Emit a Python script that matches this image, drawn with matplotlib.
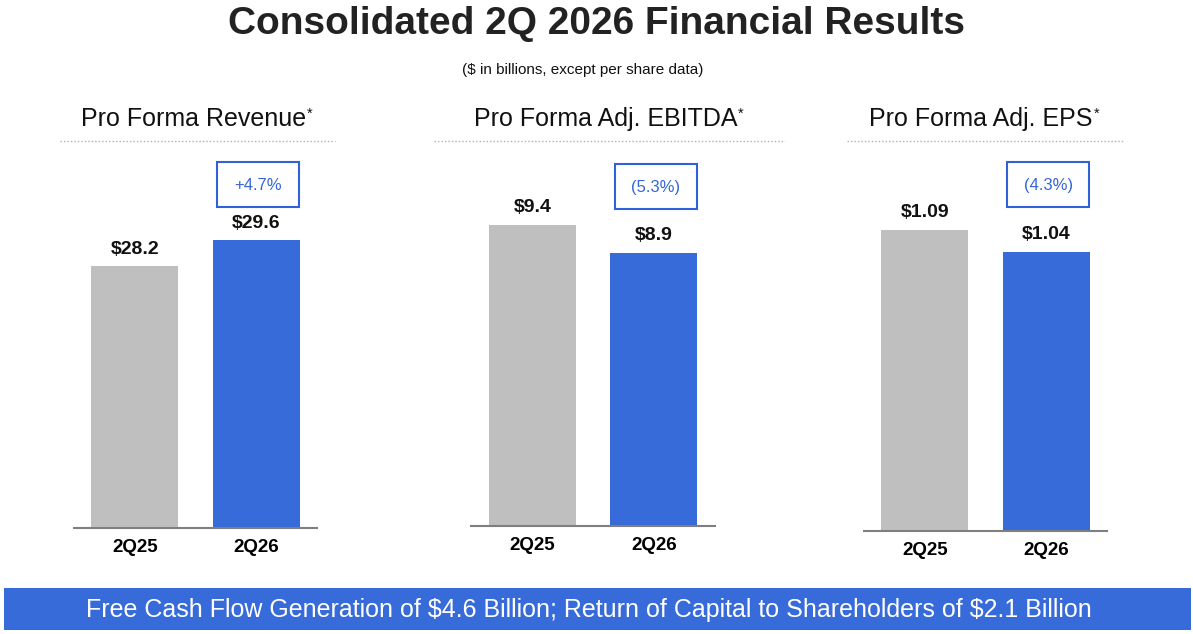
import numpy as np
import matplotlib
matplotlib.use("Agg")
import matplotlib.pyplot as plt
from matplotlib.patches import Rectangle
from matplotlib.transforms import blended_transform_factory

plt.rcParams['font.family'] = ['Liberation Sans', 'DejaVu Sans']

# data
periods = ["2Q25", "2Q26"]
titles = ["Pro Forma Revenue", "Pro Forma Adj. EBITDA", "Pro Forma Adj. EPS"]
values = [[28.2, 29.6], [9.4, 8.9], [1.09, 1.04]]
labels = [["$28.2", "$29.6"], ["$9.4", "$8.9"], ["$1.09", "$1.04"]]
changes = ["+4.7%", "(5.3%)", "(4.3%)"]
banner = "Free Cash Flow Generation of $4.6 Billion; Return of Capital to Shareholders of $2.1 Billion"

GRAY = "#bfbfbf"
BLUE = "#376bd9"
W, H = 1193, 634

# layout in pixels: (left, right, baseline_y, ymin, px_per_unit, rule_left, rule_right)
panels = [
    (74, 317, 527.5, 14.12, 18.57, 60, 335),
    (471, 715, 526, 4.025, 56.0, 434, 785),
    (864, 1107, 530.5, 0.407, 440.0, 847, 1123),
]
box_top = [162, 164, 162]
top_px = 150

fig = plt.figure(figsize=(W / 100, H / 100), dpi=100)

fig.text(596 / W, 1 - 24 / H, "Consolidated 2Q 2026 Financial Results", ha="center", va="center",
         fontsize=28, fontweight="bold", color="#222222")
fig.text(583 / W, 1 - 70 / H, "($ in billions, except per share data)", ha="center", va="center",
         fontsize=11, color="#111111")

renderer = fig.canvas.get_renderer()

for i, (l, r, base, v0, k, rl, rr) in enumerate(panels):
    ax = fig.add_axes([l / W, 1 - base / H, (r - l) / W, (base - top_px) / H])
    spacing = 121.5
    c0 = (l + r) / 2 - spacing / 2
    xmin = (l - c0) / spacing
    xmax = (r - c0) / spacing
    x = np.arange(len(periods))
    ax.bar(x, values[i], width=87 / spacing, color=[GRAY, BLUE], zorder=2)
    ax.set_xlim(xmin, xmax)
    ax.set_ylim(v0, v0 + (base - top_px) / k)
    for s in ["top", "right", "left"]:
        ax.spines[s].set_visible(False)
    ax.spines["bottom"].set_color("#7f7f7f")
    ax.spines["bottom"].set_linewidth(1.5)
    ax.set_yticks([])
    ax.set_xticks(x)
    ax.set_xticklabels(periods, fontsize=13.5, fontweight="bold")
    ax.tick_params(axis="x", length=0, pad=8)
    for xi, v, lab in zip(x, values[i], labels[i]):
        ax.annotate(lab, (xi, v), xytext=(0, 17), textcoords="offset pixels", ha="center", va="center",
                    fontsize=14, fontweight="bold", color="#111111")

    # change box above 2Q26 bar
    tr = blended_transform_factory(ax.transData, fig.transFigure)
    bw = 82 / spacing
    bt = 1 - box_top[i] / H
    bh = 45 / H
    ax.add_patch(Rectangle((1 - bw / 2 + 2 / spacing, bt - bh), bw, bh, transform=tr, fill=False,
                           edgecolor="#2f62d6", linewidth=1.5, clip_on=False))
    ax.text(1 + 2 / spacing, bt - bh / 2 - 1 / H, changes[i], transform=tr, ha="center", va="center",
            fontsize=12, color="#3566d8")

    # header with superscript asterisk
    cx = (rl + rr) / 2
    t = fig.text(cx / W, 1 - 126 / H, titles[i], ha="center", va="baseline", fontsize=18, color="#111111")
    bb = t.get_window_extent(renderer)
    shift = 4
    t.set_x((cx - shift) / W)
    fig.text((bb.x1 - shift + 1) / W, 1 - 118 / H, "*", ha="left", va="baseline", fontsize=10.5, color="#111111")
    fig.add_artist(plt.Line2D([rl / W, rr / W], [1 - 141 / H, 1 - 141 / H], color="#b0b0b0",
                              linewidth=1, linestyle=(0, (1, 1.5))))

fig.add_artist(Rectangle((4 / W, 1 - 630 / H), (1191 - 4) / W, 42 / H, transform=fig.transFigure,
                         facecolor="#376bd9", edgecolor="none"))
fig.text(589 / W, 1 - 610 / H, banner, ha="center", va="center", fontsize=18, color="white",
         parse_math=False)

fig.savefig("out.png", dpi=100)
